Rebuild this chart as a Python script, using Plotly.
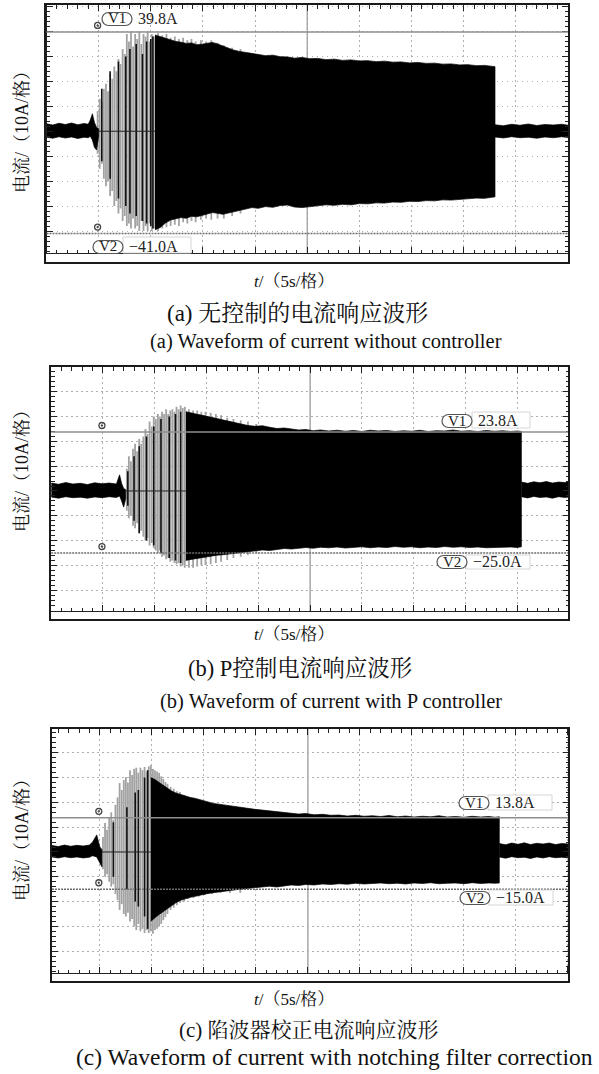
import plotly.graph_objects as go

# ======================= DATA =======================
# time in s (5 s/div), current in A (10 A/div)

# ---- (a) without controller ----
A_V1, A_V2 = 39.8, -41.0
A_PRE_T = [0.0, 0.6, 1.2, 1.8, 2.4, 3.0, 3.6, 4.0, 4.2, 4.4, 4.6, 4.8, 5.0]
A_PRE_HI = [3.0, 2.5, 3.2, 2.7, 3.3, 2.6, 3.1, 2.8, 4.5, 7.0, 3.5, 1.5, 1.0]
A_PRE_LO = [-2.4, -2.8, -2.2, -2.7, -2.3, -2.9, -2.4, -2.6, -2.0, -3.5, -6.5, -7.5, -2.0]
A_MAIN_T = [10.4, 10.9, 11.4, 11.9, 12.4, 12.9, 13.4, 13.9, 14.4, 14.9, 15.4, 15.9, 16.4, 16.9, 17.4,
            17.9, 18.5, 19.1, 19.7, 20.3, 21.0, 21.7, 22.4, 23.1, 23.8, 24.5, 25.2, 26.0, 26.8, 27.6,
            28.4, 29.2, 30.0, 30.8, 31.6, 32.4, 33.2, 34.0, 34.8, 35.6, 36.4, 37.2, 38.0, 38.8, 39.6,
            40.4, 41.2, 42.0, 42.6, 43.0]
A_MAIN_HI = [38.6, 37.9, 37.2, 36.8, 36.0, 35.7, 35.2, 35.4, 34.7, 34.9, 35.3, 35.6, 35.0, 34.1, 33.2,
             32.6, 32.0, 31.6, 31.1, 30.9, 30.3, 30.5, 29.9, 29.8, 29.3, 29.6, 29.1, 29.2, 28.7, 28.9,
             28.4, 28.6, 28.2, 28.3, 27.9, 28.1, 27.7, 27.8, 27.4, 27.6, 27.2, 27.3, 26.9, 27.0, 26.6,
             26.7, 26.3, 26.4, 26.0, 25.9]
A_MAIN_LO = [-39.5, -38.6, -36.8, -35.6, -35.2, -34.6, -34.9, -34.1, -34.3, -33.7, -33.2, -32.6, -32.9,
             -33.3, -32.8, -32.4, -31.6, -31.2, -30.6, -30.9, -30.2, -30.5, -29.8, -29.6, -30.4, -30.6,
             -30.1, -29.9, -29.5, -29.7, -29.3, -29.5, -29.0, -29.1, -28.7, -28.8, -28.4, -28.5, -28.1,
             -28.2, -27.8, -27.9, -27.5, -27.6, -27.2, -27.1, -26.8, -26.9, -26.5, -26.3]
A_POST_T = [43.0, 43.8, 44.6, 45.4, 46.2, 47.0, 47.8, 48.6, 49.4, 50.0]
A_POST_HI = [2.6, 2.2, 2.8, 2.4, 2.9, 2.3, 2.7, 2.5, 2.8, 2.4]
A_POST_LO = [-2.3, -2.7, -2.2, -2.6, -2.4, -2.8, -2.3, -2.6, -2.2, -2.5]
A_GS_T = [4.9, 5.1, 5.3, 5.5, 5.7, 5.9, 6.1, 6.3, 6.5, 6.7, 6.9, 7.1, 7.3, 7.5, 7.7, 7.9, 8.1, 8.3,
          8.5, 8.7, 8.9, 9.1, 9.3, 9.5, 9.7, 9.9, 10.1, 10.3, 10.7, 11.1, 11.5, 11.9, 12.3, 12.7,
          13.1, 13.5, 13.9, 14.3, 14.8, 15.3, 15.8, 16.4, 17.0, 17.8, 18.6]
A_GS_HI = [8, 13, 12, 17, 19, 16, 23, 21, 26, 24, 29, 27, 33, 31, 39, 36, 40, 34, 39, 37, 40, 35,
           39, 38, 40, 36, 39, 38, 39.5, 38.5, 39, 37.5, 38, 37, 37.5, 36.5, 37, 36, 36.5, 36, 36.5,
           35.5, 34.5, 33.5, 33]
A_GS_LO = [-9, -15, -13, -19, -22, -20, -26, -24, -30, -28, -33, -31, -36, -34, -38, -37, -39, -35,
           -39, -38, -40, -36, -40, -38, -40, -37, -40, -39, -40, -39, -38.5, -38, -37.5, -38, -36.5,
           -37, -36, -36.5, -35.5, -35, -35.5, -35, -35, -34, -33]
A_BS_T = [5.3, 6.1, 6.9, 7.6, 8.0, 8.6, 9.2, 9.6, 10.0, 10.2]
A_BS_HI = [17, 24, 28, 30, 33, 35, 31, 36, 37, 38]
A_BS_LO = [-12, -19, -27, -30, -33, -34, -36, -37, -38, -39]

# ---- (b) P controller ----
B_V1, B_V2 = 23.8, -25.0
B_PRE_T = [0.0, 0.7, 1.4, 2.1, 2.8, 3.5, 4.2, 4.9, 5.6, 6.3, 6.6, 6.8, 7.0, 7.2]
B_PRE_HI = [3.2, 2.7, 3.4, 2.8, 3.1, 2.6, 3.3, 2.9, 3.2, 2.8, 6.5, 3.0, 1.0, 0.5]
B_PRE_LO = [-2.4, -2.9, -2.3, -2.7, -2.5, -2.9, -2.4, -2.7, -2.3, -2.6, -2.0, -4.0, -6.5, -3.0]
B_MAIN_T = [13.0, 13.5, 14.0, 14.5, 15.0, 15.5, 16.0, 16.6, 17.2, 17.8, 18.4, 19.0, 19.7, 20.4, 21.1,
            21.8, 22.5, 23.2, 23.9, 24.6, 25.3, 26.0, 26.8, 27.6, 28.4, 29.2, 30.0, 30.8, 31.6, 32.4,
            33.2, 34.0, 34.8, 35.6, 36.4, 37.2, 38.0, 38.8, 39.6, 40.4, 41.2, 42.0, 42.8, 43.6, 44.4,
            45.0, 45.4]
B_MAIN_HI = [32.0, 31.4, 31.0, 30.6, 30.1, 29.7, 29.2, 28.6, 28.2, 27.5, 27.0, 26.4, 26.1, 26.3, 25.7,
             25.2, 25.4, 24.9, 24.6, 24.8, 24.3, 24.6, 24.2, 24.5, 24.1, 24.4, 24.0, 24.5, 24.2, 24.4,
             24.0, 24.3, 24.1, 24.5, 24.0, 24.3, 24.2, 24.6, 24.1, 24.3, 24.0, 24.4, 24.1, 24.3, 24.0,
             24.2, 24.0]
B_MAIN_LO = [-28.0, -27.6, -27.2, -26.9, -26.5, -26.2, -25.9, -25.7, -25.4, -25.1, -24.9, -24.6, -24.2,
             -23.8, -24.0, -23.5, -23.2, -23.4, -23.0, -22.8, -23.1, -22.7, -22.9, -22.6, -23.0, -22.7,
             -22.5, -22.9, -22.6, -22.8, -22.4, -22.7, -22.5, -22.9, -22.6, -22.8, -22.4, -22.7, -22.5,
             -22.8, -22.6, -22.9, -22.5, -22.7, -22.6, -22.8, -22.5]
B_POST_T = [45.4, 46.0, 46.6, 47.2, 47.8, 48.4, 49.0, 49.6, 50.0]
B_POST_HI = [3.6, 3.1, 3.7, 3.3, 3.8, 3.2, 3.6, 3.4, 3.7]
B_POST_LO = [-2.3, -2.8, -2.2, -2.6, -2.4, -2.9, -2.3, -2.6, -2.4]
B_GS_T = [7.3, 7.5, 7.7, 7.9, 8.1, 8.3, 8.5, 8.7, 8.9, 9.1, 9.3, 9.5, 9.7, 9.9, 10.1, 10.3, 10.5,
          10.7, 10.9, 11.1, 11.3, 11.5, 11.7, 11.9, 12.1, 12.3, 12.5, 12.7, 12.9, 13.3, 13.7, 14.1,
          14.5, 14.9, 15.4, 15.9, 16.4, 17.0, 17.6, 18.3, 19.0, 19.8]
B_GS_HI = [9, 14, 12, 17, 19, 16, 21, 19, 22, 25, 23, 28, 26, 30, 29, 31, 30, 32, 31, 33, 31, 32.5,
           33, 32, 34, 33, 34.5, 33.5, 34, 33, 32.5, 32.5, 32, 32, 31.5, 31, 30.5, 29.5, 29, 28.5,
           28, 27]
B_GS_LO = [-8, -11, -10, -14, -15, -13, -17, -16, -18.5, -20, -19, -22, -21, -23, -24, -25, -24,
           -26.5, -26, -27.5, -27, -28.5, -28, -29, -29.5, -29, -30.5, -30, -31, -31, -31, -30.5,
           -30, -29.8, -29.5, -29, -28.5, -27.8, -27, -26.5, -25.8, -25]
B_BS_T = [7.4, 8.0, 8.5, 9.2, 9.9, 10.6, 11.4, 12.0, 12.5]
B_BS_HI = [8, 14, 18, 22, 26, 29, 30, 31, 32]
B_BS_LO = [-6, -12, -17, -20, -22, -25, -27, -28, -29]

# ---- (c) notching filter correction ----
C_V1, C_V2 = 13.8, -15.0
C_PRE_T = [0.4, 1.0, 1.6, 2.2, 2.8, 3.4, 4.0, 4.3, 4.7, 5.0, 5.2]
C_PRE_HI = [2.6, 2.2, 2.8, 2.3, 2.7, 2.4, 2.8, 4.0, 6.9, 2.0, 1.0]
C_PRE_LO = [-2.0, -2.4, -1.9, -2.3, -2.0, -2.4, -2.1, -1.5, -2.0, -4.4, -6.0]
C_MAIN_T = [9.9, 10.3, 10.7, 11.1, 11.5, 11.9, 12.3, 12.7, 13.2, 13.7, 14.2, 14.7, 15.3, 15.9, 16.5,
            17.1, 17.8, 18.5, 19.2, 19.9, 20.6, 21.3, 22.0, 22.7, 23.4, 24.1, 24.8, 25.6, 26.4, 27.2,
            28.0, 28.8, 29.6, 30.4, 31.2, 32.0, 32.8, 33.6, 34.4, 35.2, 36.0, 36.8, 37.6, 38.4, 39.2,
            40.0, 40.8, 41.6, 42.4, 43.0, 43.4]
C_MAIN_HI = [30.0, 29.2, 28.0, 26.8, 25.5, 24.6, 23.8, 23.2, 22.5, 22.0, 21.6, 20.9, 20.3, 19.6, 19.2,
             18.8, 18.3, 18.0, 17.5, 17.2, 16.9, 16.6, 16.2, 15.9, 15.6, 15.3, 15.5, 15.0, 15.2, 14.8,
             14.9, 14.5, 14.8, 14.4, 14.6, 14.3, 14.7, 14.2, 14.5, 14.1, 14.4, 14.2, 14.6, 14.1, 14.3,
             14.0, 14.4, 14.1, 14.3, 14.0, 14.2]
C_MAIN_LO = [-28.0, -26.5, -25.2, -24.0, -22.8, -21.6, -20.5, -19.6, -18.9, -18.3, -17.8, -17.3, -16.8,
             -16.4, -16.0, -15.7, -15.3, -15.0, -14.7, -14.4, -14.0, -13.8, -14.1, -13.6, -13.3, -13.5,
             -13.1, -13.3, -12.9, -13.1, -12.8, -13.0, -12.6, -12.9, -12.7, -12.5, -12.8, -12.6, -12.9,
             -12.5, -12.7, -12.4, -12.8, -12.6, -12.5, -12.8, -12.4, -12.7, -12.5, -12.6, -12.5]
C_POST_T = [43.4, 44.0, 44.6, 45.2, 45.8, 46.4, 47.0, 47.6, 48.2, 48.8, 49.4, 50.1]
C_POST_HI = [3.4, 2.9, 3.6, 3.1, 3.7, 3.0, 3.5, 3.2, 3.6, 3.0, 3.4, 3.2]
C_POST_LO = [-2.0, -2.5, -1.9, -2.3, -2.1, -2.6, -2.0, -2.4, -1.9, -2.3, -2.1, -2.4]
C_GS_T = [5.3, 5.5, 5.7, 5.9, 6.1, 6.3, 6.5, 6.7, 6.9, 7.1, 7.3, 7.5, 7.7, 7.9, 8.1, 8.3, 8.5, 8.7,
          8.9, 9.1, 9.3, 9.5, 9.7, 9.9, 10.1, 10.3, 10.5, 10.7, 10.9, 11.1, 11.3, 11.5, 11.8, 12.1,
          12.4, 12.7, 13.1, 13.5, 14.0, 14.5, 15.1, 15.8, 16.6, 17.5, 18.5]
C_GS_HI = [6, 11.7, 9, 14, 16, 13, 19, 22, 27.8, 25, 29, 30.2, 28, 33, 31, 33.5, 34, 32, 34, 33,
           34.3, 32.5, 34.5, 35, 33.5, 33, 32.5, 31.9, 30.5, 29.5, 28.2, 27.5, 26.2, 25.5, 24.5,
           24.2, 23, 22, 21.8, 20.5, 20.2, 19.5, 19, 18.5, 18]
C_GS_LO = [-7, -10, -9, -12, -14, -13, -17, -19.4, -23.4, -21, -25, -26, -24.5, -28, -27, -30,
           -31.5, -29, -32, -31, -32.7, -31.5, -32.7, -32, -33, -31.5, -31, -30, -29, -27.5, -26.3,
           -25, -23.4, -22.5, -21.5, -20.6, -20, -19, -18.5, -18, -17.3, -17, -16.5, -16.5, -16.5]
C_BS_T = [6.3, 7.6, 8.4, 8.7, 9.3, 9.6]
C_BS_HI = [12, 18, 24, 25, 30, 33]
C_BS_LO = [-10, -15, -20, -22, -26, -31]

# text
Y_TITLE = "电流/（10A/格）"
X_TITLE = "<i>t</i>/（5s/格）"
CAP_CN = ["(a) 无控制的电流响应波形", "(b) P控制电流响应波形", "(c) 陷波器校正电流响应波形"]
CAP_EN = ["(a) Waveform of current without controller",
          "(b) Waveform of current with P controller",
          "(c) Waveform of current with notching filter correction"]

# ======================= LAYOUT / STYLE =======================
W, H = 599, 1074
FONT = "Liberation Serif, 'Noto Serif CJK SC', 'Noto Sans CJK SC', serif"
GREY = "#a2a2a2"


def fx(p):
    return p / W


def fy(p):
    return 1 - p / H


def band_xy(ts, his, los):
    pts = list(zip(ts, his, los))
    xs = [p[0] for p in pts] + [p[0] for p in pts[::-1]]
    ys = [p[1] for p in pts] + [p[2] for p in pts[::-1]]
    return xs, ys


def spike_xy(ts, his, los):
    xs, ys = [], []
    for t, h, l in zip(ts, his, los):
        xs += [t, t, None]
        ys += [l, h, None]
    return xs, ys


PANELS = [
    dict(pre=(A_PRE_T, A_PRE_HI, A_PRE_LO), main=(A_MAIN_T, A_MAIN_HI, A_MAIN_LO),
         post=(A_POST_T, A_POST_HI, A_POST_LO), gs=(A_GS_T, A_GS_HI, A_GS_LO),
         bs=(A_BS_T, A_BS_HI, A_BS_LO), v1=A_V1, v2=A_V2,
         dx=(46.5, 568), dy=(5, 253), frame=(45, 4, 569, 263), xr=(0, 50), yr=(-48.8, 50.6),
         p1=(117, 19), p2=(108, 247), box1=None, box2=(123, 237, 191, 253),
         ytitle_y=128, xt_y=281, cn=(297, 313, 23), en=(326, 342, 20.5)),
    dict(pre=(B_PRE_T, B_PRE_HI, B_PRE_LO), main=(B_MAIN_T, B_MAIN_HI, B_MAIN_LO),
         post=(B_POST_T, B_POST_HI, B_POST_LO), gs=(B_GS_T, B_GS_HI, B_GS_LO),
         bs=(B_BS_T, B_BS_HI, B_BS_LO), v1=B_V1, v2=B_V2,
         dx=(51.2, 569), dy=(367, 611), frame=(50, 366, 569, 620), xr=(0, 50), yr=(-48.4, 50.0),
         p1=(457, 421), p2=(452, 562), box1=(472, 412, 530, 428), box2=(466, 555, 530, 569),
         ytitle_y=467, xt_y=634, cn=(300, 668, 22.5), en=(331, 701, 20.5)),
    dict(pre=(C_PRE_T, C_PRE_HI, C_PRE_LO), main=(C_MAIN_T, C_MAIN_HI, C_MAIN_LO),
         post=(C_POST_T, C_POST_HI, C_POST_LO), gs=(C_GS_T, C_GS_HI, C_GS_LO),
         bs=(C_BS_T, C_BS_HI, C_BS_LO), v1=C_V1, v2=C_V2,
         dx=(52, 569), dy=(729, 973), frame=(51, 728, 569, 982), xr=(0.4, 50.1), yr=(-48.8, 49.6),
         p1=(474, 803), p2=(475, 898), box1=(488, 795, 552, 810), box2=(489, 890, 553, 905),
         ytitle_y=836, xt_y=999, cn=(309, 1030, 21), en=(334, 1057, 23.5)),
]

fig = go.Figure()
shapes = []
annotations = []


def pill_path(cx, cy, w=30, h=13):
    r = h / 2
    a = w / 2 - r
    k = 0.55 * r
    pts = [
        ("M", [(cx - a, cy - r)]),
        ("L", [(cx + a, cy - r)]),
        ("C", [(cx + a + k, cy - r), (cx + a + r, cy - k), (cx + a + r, cy)]),
        ("C", [(cx + a + r, cy + k), (cx + a + k, cy + r), (cx + a, cy + r)]),
        ("L", [(cx - a, cy + r)]),
        ("C", [(cx - a - k, cy + r), (cx - a - r, cy + k), (cx - a - r, cy)]),
        ("C", [(cx - a - r, cy - k), (cx - a - k, cy - r), (cx - a, cy - r)]),
    ]
    s = ""
    for cmd, ps in pts:
        s += cmd + " " + " ".join(f"{fx(x):.5f},{fy(y):.5f}" for x, y in ps) + " "
    return s + "Z"


for i, P in enumerate(PANELS, start=1):
    sfx = "" if i == 1 else str(i)
    xa, ya = "x" + sfx, "y" + sfx

    # grey (aliased) oscillation strokes
    gx, gy = spike_xy(*P["gs"])
    fig.add_trace(go.Scatter(x=gx, y=gy, mode="lines", line=dict(color=GREY, width=1.8),
                             xaxis=xa, yaxis=ya, hoverinfo="skip", showlegend=False))
    # dense black envelope
    for seg in ("pre", "main", "post"):
        bx, by = band_xy(*P[seg])
        fig.add_trace(go.Scatter(x=bx, y=by, mode="lines", fill="toself", fillcolor="black",
                                 line=dict(color="black", width=0.7), xaxis=xa, yaxis=ya,
                                 hoverinfo="skip", showlegend=False))
    # black strokes
    kx, ky = spike_xy(*P["bs"])
    fig.add_trace(go.Scatter(x=kx, y=ky, mode="lines", line=dict(color="#111", width=1.6),
                             xaxis=xa, yaxis=ya, hoverinfo="skip", showlegend=False))
    # cursor markers
    fig.add_trace(go.Scatter(x=[4.9, 4.9], y=[P["v1"] + 2.6, P["v2"] + 2.6], mode="markers",
                             marker=dict(symbol="circle-open-dot", size=6, color="#444",
                                         line=dict(width=1.3, color="#444")),
                             xaxis=xa, yaxis=ya, hoverinfo="skip", showlegend=False))

    common = dict(showticklabels=False, ticks="inside", ticklen=6, tickwidth=1, tickcolor="#222",
                  showgrid=True, gridcolor="#b0b0b0", gridwidth=1, griddash="1.5px,3.5px",
                  zeroline=False, showline=True, linecolor="#222", linewidth=1.4, mirror="ticks",
                  fixedrange=True)
    fig.update_layout(**{
        "xaxis" + sfx: dict(common, domain=[fx(P["dx"][0]), fx(P["dx"][1])], range=list(P["xr"]),
                            dtick=5, tick0=0, anchor=ya,
                            minor=dict(ticks="inside", ticklen=3.5, dtick=1, tick0=0,
                                       tickcolor="#222", showgrid=False)),
        "yaxis" + sfx: dict(common, domain=[fy(P["dy"][1]), fy(P["dy"][0])], range=list(P["yr"]),
                            dtick=10, tick0=0, anchor=xa,
                            minor=dict(ticks="inside", ticklen=3.5, dtick=2, tick0=0,
                                       tickcolor="#222", showgrid=False)),
    })

    xd, yd = xa + " domain", ya + " domain"
    # centre vertical graticule line
    shapes.append(dict(type="line", xref=xa, yref=yd, x0=25, x1=25, y0=0, y1=1,
                       line=dict(color="#9a9a9a", width=1.3), layer="below"))
    # zero trace line through the transient
    shapes.append(dict(type="line", xref=xa, yref=ya, x0=P["pre"][0][-1], x1=P["main"][0][0],
                       y0=0, y1=0, line=dict(color="#222", width=1), layer="above"))
    # cursors
    shapes.append(dict(type="line", xref=xd, yref=ya, x0=0, x1=1, y0=P["v1"], y1=P["v1"],
                       line=dict(color="#8e8e8e", width=1.5), layer="above"))
    shapes.append(dict(type="line", xref=xd, yref=ya, x0=0, x1=1, y0=P["v2"], y1=P["v2"],
                       line=dict(color="#6e6e6e", width=1.5, dash="2px,1px"), layer="above"))
    # outer frame
    fr = P["frame"]
    shapes.append(dict(type="rect", xref="paper", yref="paper", x0=fx(fr[0]), x1=fx(fr[2]),
                       y0=fy(fr[3]), y1=fy(fr[1]), line=dict(color="#1a1a1a", width=2),
                       layer="above"))
    # faint readout boxes
    for bx in (P["box1"], P["box2"]):
        if bx:
            shapes.append(dict(type="rect", xref="paper", yref="paper", x0=fx(bx[0]), x1=fx(bx[2]),
                               y0=fy(bx[3]), y1=fy(bx[1]), line=dict(color="#d6d6d6", width=1),
                               fillcolor="white", layer="above"))
    # pills and readouts
    for name, pc, val in (("V1", P["p1"], P["v1"]), ("V2", P["p2"], P["v2"])):
        shapes.append(dict(type="path", xref="paper", yref="paper", path=pill_path(*pc),
                           line=dict(color="#555", width=1.2), fillcolor="white", layer="above"))
        annotations.append(dict(x=fx(pc[0]), y=fy(pc[1] - 0.5), xref="paper", yref="paper",
                                text=name, showarrow=False, xanchor="center", yanchor="middle",
                                font=dict(family=FONT, size=15, color="#222")))
        txt = f"{val:.1f}A".replace("-", "\u2212")
        annotations.append(dict(x=fx(pc[0] + 19), y=fy(pc[1] - 0.5), xref="paper", yref="paper",
                                text=txt, showarrow=False, xanchor="left", yanchor="middle",
                                font=dict(family=FONT, size=16, color="#222")))
    # titles / captions
    annotations.append(dict(x=fx(22), y=fy(P["ytitle_y"]), xref="paper", yref="paper",
                            text=Y_TITLE, textangle=-90, showarrow=False, xanchor="center",
                            yanchor="middle", font=dict(family=FONT, size=18, color="#111")))
    annotations.append(dict(x=fx(294), y=fy(P["xt_y"]), xref="paper", yref="paper",
                            text=X_TITLE, showarrow=False, xanchor="center", yanchor="middle",
                            font=dict(family=FONT, size=17, color="#111")))
    annotations.append(dict(x=fx(P["cn"][0]), y=fy(P["cn"][1]), xref="paper", yref="paper",
                            text=CAP_CN[i - 1], showarrow=False, xanchor="center",
                            yanchor="middle", font=dict(family=FONT, size=P["cn"][2], color="#111")))
    annotations.append(dict(x=fx(P["en"][0]), y=fy(P["en"][1]), xref="paper", yref="paper",
                            text=CAP_EN[i - 1], showarrow=False, xanchor="center",
                            yanchor="middle", font=dict(family=FONT, size=P["en"][2], color="#111")))

fig.update_layout(width=W, height=H, autosize=False, margin=dict(l=0, r=0, t=0, b=0, pad=0),
                  paper_bgcolor="white", plot_bgcolor="white", showlegend=False,
                  shapes=shapes, annotations=annotations, hovermode=False)

fig.write_html("out.html", config={"displayModeBar": False, "staticPlot": True})
